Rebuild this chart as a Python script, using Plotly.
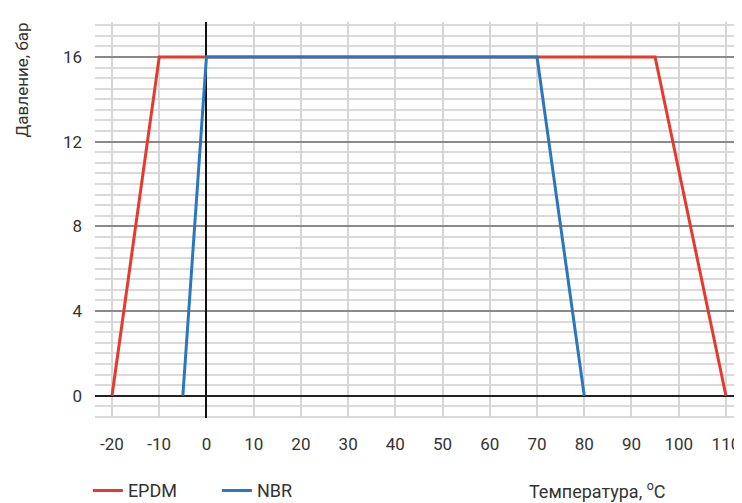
import plotly.graph_objects as go

# Data
epdm_temp = [-20, -10, 95, 110]
epdm_pressure = [0, 16, 16, 0]
nbr_temp = [-5, 0, 70, 80]
nbr_pressure = [0, 16, 16, 0]
x_ticks = [-20, -10, 0, 10, 20, 30, 40, 50, 60, 70, 80, 90, 100, 110]
y_ticks = [0, 4, 8, 12, 16]

FONT = "Roboto, Lato, sans-serif"

fig = go.Figure()
fig.add_trace(go.Scatter(x=epdm_temp, y=epdm_pressure, mode="lines", name="EPDM",
                         line=dict(color="#e63a2e", width=3)))
fig.add_trace(go.Scatter(x=nbr_temp, y=nbr_pressure, mode="lines", name="NBR",
                         line=dict(color="#2a77c0", width=3)))

# plot area: 647 x 396 px
fig.update_layout(
    width=734, height=510,
    margin=dict(l=87, r=0, t=14, b=100),
    paper_bgcolor="white", plot_bgcolor="white",
    font=dict(family=FONT, size=17, color="#333333"),
    showlegend=True,
    legend=dict(orientation="h", x=-0.011, xanchor="left", y=-0.137, yanchor="top",
                font=dict(size=18, color="#333333"), itemwidth=30,
                entrywidth=84, entrywidthmode="pixels"),
    xaxis=dict(range=[-23.6, 113.4], tickmode="array", tickvals=x_ticks,
               ticktext=[str(v) for v in x_ticks],
               showgrid=True, gridcolor="#d6d6d6", gridwidth=2,
               zeroline=True, zerolinecolor="#111111", zerolinewidth=2,
               showline=False, ticks="", ticklabelstandoff=14),
    yaxis=dict(range=[-1.05, 17.65], tickmode="array", tickvals=y_ticks,
               ticktext=[str(v) for v in y_ticks],
               showgrid=True, gridcolor="#8a8a8a", gridwidth=1.5,
               zeroline=True, zerolinecolor="#222222", zerolinewidth=2,
               showline=False, ticks="", ticklabelstandoff=12,
               minor=dict(dtick=0.5, tick0=0, showgrid=True, gridcolor="#dadada", gridwidth=2)),
    annotations=[
        dict(text="Давление, бар", textangle=-90, xref="paper", yref="paper",
             x=-0.113, y=1.005, xanchor="center", yanchor="top", showarrow=False,
             font=dict(size=17, color="#333333")),
        dict(text="Температура, <sup>o</sup>C", xref="paper", yref="paper",
             x=0.777, y=-0.147, xanchor="center", yanchor="top", showarrow=False,
             font=dict(size=18, color="#333333")),
    ],
)

fig.write_html("out.html")
